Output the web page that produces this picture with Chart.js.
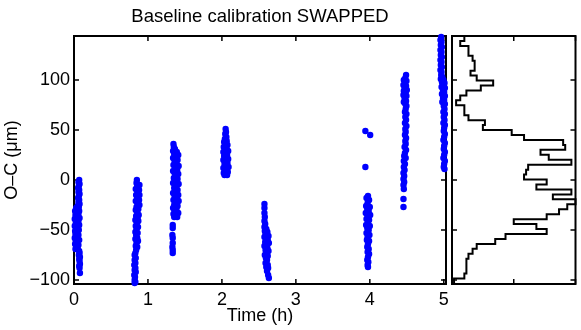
<!DOCTYPE html>
<html>
<head>
<meta charset="utf-8">
<script src="https://cdn.jsdelivr.net/npm/chart.js@4.4.0/dist/chart.umd.min.js"></script>
<style>
  html, body { margin: 0; padding: 0; background: #fff; }
  #wrap { position: relative; width: 581px; height: 330px; }
  #main { position: absolute; left: 0; top: 0; }
  #hist { position: absolute; left: 446px; top: 30px; }
</style>
</head>
<body>
<div id="wrap">
  <canvas id="main" width="581" height="330"></canvas>
  <canvas id="hist" width="135" height="260"></canvas>
</div>
<script>
// ---------------------------------------------- data
// tick labels
const timeTicks = [0, 1, 2, 3, 4, 5];
const ocTicks = [-100, -50, 0, 50, 100];
const histTicks = [0, 30, 60];

// O-C samples, one list per run: [time (h), O-C (um)]
const run1 = [
  [0.07,0],[0.06,-2],[0.075,-4],[0.065,-6],[0.055,-8],[0.07,-10],[0.06,-12],[0.075,-14],[0.065,-16],[0.055,-18],
  [0.07,-20],[0.06,-22],[0.075,-24],[0.05,-26],[0.065,-27],
  [0.03,-28],[0.055,-29],[0.015,-31],[0.07,-31],[0.04,-33],[0.06,-34],[0.02,-35],[0.05,-37],[0.075,-38],[0.01,-39],
  [0.035,-40],[0.06,-41],[0.025,-43],[0.045,-44],[0.07,-45],[0.01,-46],[0.055,-47],[0.03,-49],[0.065,-50],[0.015,-51],
  [0.045,-52],[0.02,-54],[0.06,-55],[0.035,-56],[0.01,-58],[0.05,-59],[0.07,-60],[0.025,-61],[0.04,-63],[0.015,-64],
  [0.06,-65],[0.03,-67],[0.05,-68],[0.02,-69],
  [0.07,-71],[0.075,-73],[0.065,-75],[0.08,-77],[0.07,-79],[0.075,-81],[0.08,-84],[0.07,-86],[0.075,-88],[0.08,-93]
];
const run2 = [
  [0.85,0],[0.845,-3],[0.885,-5],[0.855,-6],[0.835,-9],[0.88,-10],[0.86,-12],[0.885,-15],[0.84,-15],[0.855,-18],
  [0.88,-20],[0.835,-21],[0.86,-24],[0.885,-25],[0.845,-27],
  [0.87,-29],[0.835,-30],[0.855,-32],[0.875,-35],[0.84,-36],[0.86,-38],[0.83,-40],[0.87,-41],[0.85,-43],[0.835,-46],
  [0.865,-47],[0.845,-49],[0.83,-52],[0.86,-53],[0.84,-55],[0.855,-58],[0.83,-59],[0.865,-61],[0.845,-63],[0.835,-66],
  [0.855,-67],[0.84,-70],
  [0.83,-73],[0.82,-75],[0.835,-78],[0.82,-80],[0.83,-83],[0.815,-85],[0.83,-88],[0.82,-90],[0.835,-92],[0.815,-95],
  [0.825,-97],[0.82,-100],[0.83,-102],[0.82,-103]
];
const run3 = [
  [1.345,36],[1.35,33],
  [1.365,31],[1.34,29],[1.39,28],[1.355,26],[1.41,25],[1.375,23],[1.34,22],[1.4,20],[1.36,19],[1.385,17],
  [1.345,15],[1.415,14],[1.37,12],[1.395,10],[1.34,9],[1.36,7],[1.41,6],[1.38,4],[1.35,2],[1.4,1],
  [1.365,-1],[1.34,-3],[1.415,-4],[1.385,-6],[1.355,-8],[1.4,-10],[1.37,-11],[1.34,-13],[1.41,-15],[1.36,-16],
  [1.39,-18],[1.345,-20],[1.415,-21],[1.375,-23],[1.355,-25],[1.4,-26],[1.34,-28],[1.385,-29],[1.36,-31],[1.41,-33],
  [1.345,-34],[1.375,-35],[1.395,-37],[1.355,-37],
  [1.335,-45],[1.335,-48],[1.33,-55],[1.335,-58],[1.335,-63],[1.33,-67],[1.335,-70],[1.335,-73]
];
const run4 = [
  [2.05,51],[2.055,48],[2.045,46],[2.06,43],[2.04,41],[2.065,39],[2.03,38],[2.05,36],[2.075,35],[2.025,33],
  [2.06,32],[2.04,30],[2.085,29],[2.02,28],[2.055,27],[2.07,25],[2.03,24],[2.045,22],[2.085,21],[2.02,20],
  [2.06,19],[2.075,17],[2.035,16],[2.05,14],[2.09,13],[2.02,12],[2.065,11],[2.04,9],[2.08,8],[2.025,7],
  [2.055,6],[2.07,5],[2.035,5]
];
const run5 = [
  [2.575,-24],[2.575,-28],[2.575,-33],[2.58,-37],[2.575,-41],[2.585,-44],[2.575,-47],[2.6,-49],[2.58,-51],[2.615,-52],
  [2.59,-54],[2.63,-56],[2.575,-57],[2.605,-58],[2.62,-60],[2.585,-62],[2.635,-63],[2.6,-65],[2.575,-66],[2.615,-68],
  [2.59,-70],[2.63,-71],[2.605,-73],[2.58,-75],[2.62,-76],[2.595,-78],[2.61,-80],[2.59,-83],[2.62,-85],[2.6,-87],
  [2.625,-88],[2.61,-91],[2.625,-95],[2.635,-98]
];
const run6 = [
  [3.94,49],[4.005,45],[3.94,13],
  [3.975,-16],[3.955,-18],[3.99,-20],[3.97,-23],[3.95,-26],[4.0,-27],[3.965,-29],[3.985,-31],[3.945,-33],[4.005,-35],
  [3.97,-36],[3.955,-39],[3.99,-40],[3.975,-43],[3.95,-45],[4.0,-46],[3.965,-48],[3.985,-50],[3.955,-53],[3.995,-55],
  [3.97,-57],[3.96,-60],[3.99,-61],[3.975,-64],[3.965,-67],[3.985,-69],[3.97,-72],[3.99,-74],[3.975,-77],[3.965,-80],
  [3.98,-82],[3.97,-85],[3.975,-87]
];
const run7 = [
  [4.49,105],[4.48,102],[4.46,100],[4.495,99],[4.475,97],[4.455,95],[4.49,94],[4.47,92],[4.5,90],[4.46,89],
  [4.485,87],[4.455,85],[4.495,84],[4.47,82],[4.49,79],[4.46,78],[4.48,76],[4.495,74],[4.485,71],[4.475,68],
  [4.495,66],[4.48,63],[4.49,60],[4.475,57],[4.495,54],[4.48,51],[4.485,48],[4.475,45],[4.49,42],[4.48,39],
  [4.485,36],[4.47,33],[4.49,30],[4.475,27],[4.465,24],[4.485,22],[4.46,19],[4.475,16],[4.46,13],[4.47,10],
  [4.455,7],[4.465,4],[4.455,1],[4.465,-2],[4.455,-5],[4.46,-9],[4.455,-19],[4.455,-27]
];
const run8 = [
  [4.965,143],[4.955,140],[4.97,138],[4.96,135],[4.975,133],[4.955,130],[4.97,128],[4.96,125],[4.975,123],[4.955,120],
  [4.97,118],[4.96,115],[4.975,113],[4.955,110],[4.97,108],[4.965,105],[4.98,103],[4.96,101],[4.995,100],[4.975,98],
  [5.01,97],[4.985,95],[4.97,93],[5.015,92],[4.99,90],[5.005,88],[4.975,86],[5.015,84],[4.99,82],[5.005,80],
  [4.98,78],[5.015,76],[5.0,74],[5.01,71],[4.995,68],[5.015,66],[5.0,63],[5.01,60],[4.995,57],[5.015,55],
  [5.005,52],[5.0,49],[5.015,46],[5.005,43],[4.995,40],[5.015,37],[5.005,34],[5.0,31],[5.015,28],[5.005,25],
  [4.995,22],[5.015,19],[5.005,16],[5.0,13],[5.01,11]
];

// histogram of O-C, bins from top to bottom
const binWidth = 4.95;
const histCenters = [
  141.53, 136.58, 131.63, 126.68, 121.73, 116.78, 111.83, 106.88, 101.93, 96.98,
  92.03, 87.08, 82.13, 77.18, 72.23, 67.28, 62.33, 57.38, 52.43, 47.48,
  42.53, 37.58, 32.63, 27.68, 22.73, 17.78, 12.83, 7.88, 2.93, -2.02,
  -6.97, -11.92, -16.87, -21.82, -26.77, -31.72, -36.67, -41.62, -46.57, -51.52,
  -56.47, -61.42, -66.37, -71.32, -76.27, -81.22, -86.17, -91.12, -96.07, -101.02
];
const histCounts = [
  6, 4, 8, 8, 10, 11, 11, 9, 12, 20,
  14, 7, 4, 2, 6, 6, 8, 16, 15, 29,
  35, 54, 55, 43, 47, 58, 37, 36, 35, 46,
  41, 58, 49, 60, 56, 52, 46, 30, 41, 46,
  26, 21, 12, 10, 8, 7, 7, 7, 6, 1
];

// ---------------------------------------------- helpers
const fontFamily = "'Liberation Sans', Arial, Helvetica, sans-serif";

// box round the plot, ticks pointing inwards on all four sides
const framePlugin = {
  id: 'frame',
  beforeDatasetsDraw(chart, args, opts) {
    const ctx = chart.ctx;
    const a = chart.chartArea;
    const len = 5;
    ctx.save();
    ctx.strokeStyle = '#000';
    ctx.lineWidth = 1.5;
    ctx.beginPath();
    (opts.xTicks || []).forEach(v => {
      const px = chart.scales.x.getPixelForValue(v);
      ctx.moveTo(px, a.bottom); ctx.lineTo(px, a.bottom - len);
      ctx.moveTo(px, a.top); ctx.lineTo(px, a.top + len);
    });
    (opts.yTicks || []).forEach(v => {
      const py = chart.scales.y.getPixelForValue(v);
      ctx.moveTo(a.left, py); ctx.lineTo(a.left + len, py);
      ctx.moveTo(a.right, py); ctx.lineTo(a.right - len, py);
    });
    ctx.stroke();
    ctx.lineWidth = 2;
    ctx.strokeRect(a.left, a.top, a.right - a.left, a.bottom - a.top);
    ctx.restore();
  }
};

// ---------------------------------------------- scatter
const scatterPoints = [].concat(run1, run2, run3, run4, run5, run6, run7, run8)
  .map(p => ({ x: p[0], y: p[1] }));

const configMain = {
  type: 'scatter',
  data: {
    datasets: [{
      data: scatterPoints,
      backgroundColor: '#0000ff',
      borderWidth: 0,
      pointRadius: 3.2,
      pointHoverRadius: 3.2,
      clip: false
    }]
  },
  options: {
    responsive: false,
    animation: false,
    devicePixelRatio: 1,
    events: [],
    layout: { padding: { left: 0, right: 135, top: 0, bottom: 0 } },
    plugins: {
      legend: { display: false },
      tooltip: { enabled: false },
      title: {
        display: true,
        text: 'Baseline calibration SWAPPED',
        fullSize: false,
        color: '#000',
        font: { family: fontFamily, size: 18.5, weight: 'normal' },
        padding: { top: 5.8, bottom: 8 }
      },
      frame: { xTicks: timeTicks, yTicks: ocTicks }
    },
    scales: {
      x: {
        type: 'linear',
        min: 0,
        max: 5.03,
        grid: { display: false, drawTicks: false },
        border: { display: false },
        afterBuildTicks: s => { s.ticks = timeTicks.map(v => ({ value: v })); },
        afterFit: s => { s.height = 46; },
        ticks: {
          color: '#000',
          font: { family: fontFamily, size: 18 },
          padding: 5,
          maxRotation: 0,
          autoSkip: false
        },
        title: {
          display: true,
          text: 'Time (h)',
          color: '#000',
          font: { family: fontFamily, size: 18 },
          padding: { top: 0, bottom: 3 }
        }
      },
      y: {
        type: 'linear',
        min: -104,
        max: 144,
        grid: { display: false, drawTicks: false },
        border: { display: false },
        afterBuildTicks: s => { s.ticks = ocTicks.map(v => ({ value: v })); },
        afterFit: s => { s.width = 74; },
        ticks: {
          color: '#000',
          font: { family: fontFamily, size: 18 },
          padding: 4,
          autoSkip: false,
          callback: v => v < 0 ? '\u2212' + (-v) : '' + v
        },
        title: {
          display: true,
          text: 'O\u2013C (\u03bcm)',
          color: '#000',
          font: { family: fontFamily, size: 18 },
          padding: { top: 1.6, bottom: 0 }
        }
      }
    }
  },
  plugins: [framePlugin]
};

var chartMain = new Chart(document.getElementById('main'), configMain);

// ---------------------------------------------- histogram (stairs outline)
const stairs = [];
histCounts.forEach((c, i) => {
  stairs.push({ x: c, y: histCenters[i] + binWidth / 2 });
  stairs.push({ x: c, y: histCenters[i] - binWidth / 2 });
});

const configHist = {
  type: 'scatter',
  data: {
    datasets: [{
      data: stairs,
      showLine: true,
      borderColor: '#000',
      borderWidth: 2,
      pointRadius: 0,
      tension: 0,
      clip: false
    }]
  },
  options: {
    responsive: false,
    animation: false,
    devicePixelRatio: 1,
    events: [],
    layout: { padding: { left: 6, right: 5.5, top: 6, bottom: 6 } },
    plugins: {
      legend: { display: false },
      tooltip: { enabled: false },
      frame: { xTicks: histTicks, yTicks: ocTicks }
    },
    scales: {
      x: { type: 'linear', display: false, min: 0, max: 60 },
      y: { type: 'linear', display: false, min: -104, max: 144 }
    }
  },
  plugins: [framePlugin]
};

var chartHist = new Chart(document.getElementById('hist'), configHist);
</script>
</body>
</html>
